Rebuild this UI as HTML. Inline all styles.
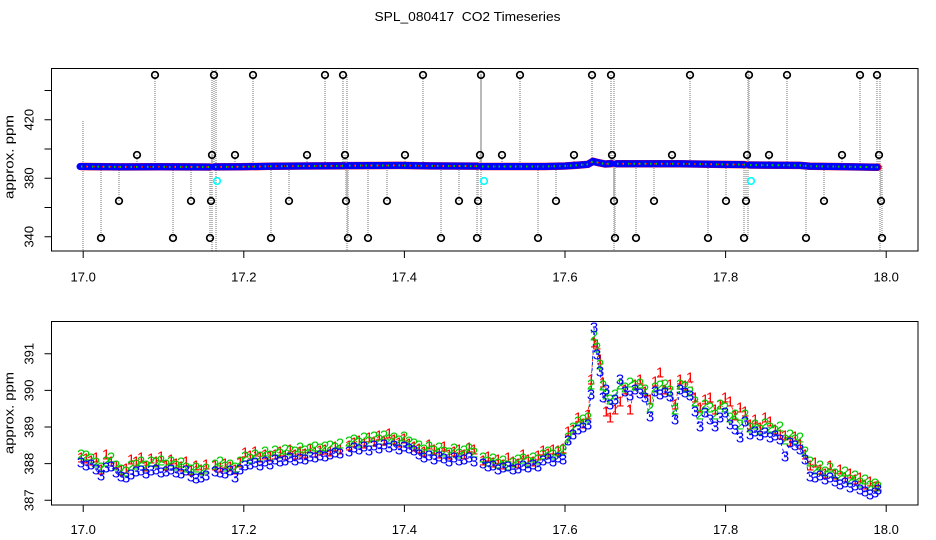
<!DOCTYPE html>
<html>
<head>
<meta charset="utf-8">
<style>
html,body{margin:0;padding:0;background:#fff;}
svg{display:block;}
text{font-family:"Liberation Sans",Arial,sans-serif;}
</style>
</head>
<body>
<svg width="936" height="540" viewBox="0 0 936 540" xmlns="http://www.w3.org/2000/svg">
<rect x="0" y="0" width="936" height="540" fill="#fff"/>

<!-- Title -->
<text x="467.5" y="21" font-size="13" text-anchor="middle" xml:space="preserve" textLength="186" lengthAdjust="spacingAndGlyphs">SPL_080417  CO2 Timeseries</text>

<!-- ================= TOP PANEL ================= -->
<path fill="none" stroke="#a9a9a9" stroke-width="1.6" stroke-dasharray="1 1"
d="M155 75V166 M214 75V166 M253 75V166 M325 75V166 M343 75V166 M423 75V166 M481 75V166 M520 75V166 M592 75V166 M611 75V166 M690 75V166 M749 75V166 M787 75V166 M860 75V166 M877 75V166
M137 155V166 M212 155V166 M235 155V166 M307 155V166 M345 155V166 M405 155V166 M480 155V166 M502 155V166 M574 155V166 M612 155V166 M672 155V166 M747 155V166 M769 155V166 M842 155V166 M879 155V166
M119 166V201 M191 166V201 M211 166V201 M289 166V201 M346 166V201 M387 166V201 M459 166V201 M478 166V201 M556 166V201 M614 166V201 M654 166V201 M726 166V201 M746 166V201 M824 166V201 M881 166V201
M101 166V238 M173 166V238 M210 166V238 M271 166V238 M348 166V238 M368 166V238 M441 166V238 M477 166V238 M538 166V238 M615 166V238 M636 166V238 M708 166V238 M744 166V238 M806 166V238 M882 166V238
M83 121V251 M212 68V251 M216 68V251 M347 75V251 M481 68V240 M614 75V251 M748 68V240 M880 75V251"/>

<g fill="none" stroke-linecap="round" stroke-linejoin="round">
<path stroke="#ff0000" stroke-width="7.5" d="M81 166.5 L120 166.9 L160 166.8 L210 167 M215 166.9 L240 166.8 L270 166.3 L300 166 L345 165.8 M349 165.6 L400 165.4 L430 165.9 L478 166.1 M482 166.5 L545 166.5 L565 166 L580 165 L588 164.3 L593 161.3 L598 162.6 L605 164 L612 163.6 M617 163.8 L680 163.8 L720 164.4 L745 164.6 M750 165 L800 165.4 L810 166.2 L840 166.6 L878 167.2"/>
<path stroke="#0000ff" stroke-width="7" d="M80 166.5 L120 166.9 L160 166.8 L209 167 M214 166.9 L240 166.8 L270 166.3 L300 166 L344 165.8 M348 165.6 L400 165.4 L430 165.9 L477 166.1 M481 166.5 L545 166.5 L565 166 L580 165 L588 164.3 L593 161.3 L598 162.6 L605 164 L611 163.6 M616 163.8 L680 163.8 L720 164.4 L744 164.6 M749 165 L800 165.4 L810 166.2 L840 166.6 L877 167.2"/>
<path stroke="#00cd00" stroke-width="2" stroke-dasharray="1.5 4" stroke-linecap="butt" d="M81 166.5 L120 166.9 L160 166.8 L210 167 M215 166.9 L240 166.8 L270 166.3 L300 166 L345 165.8 M349 165.6 L400 165.4 L430 165.9 L478 166.1 M482 166.5 L545 166.5 L565 166 L580 165 L588 164.3 L593 161.3 L598 162.6 L605 164 L612 163.6 M617 163.8 L680 163.8 L720 164.4 L745 164.6 M750 165 L800 165.4 L810 166.2 L840 166.6 L878 167.2"/>
<path stroke="#ff0000" stroke-width="1.5" stroke-dasharray="1 7" stroke-dashoffset="3" stroke-linecap="butt" d="M81 166.5 L120 166.9 L160 166.8 L210 167 M215 166.9 L240 166.8 L270 166.3 L300 166 L345 165.8 M349 165.6 L400 165.4 L430 165.9 L478 166.1 M482 166.5 L545 166.5 L565 166 L580 165 L588 164.3 L593 161.3 L598 162.6 L605 164 L612 163.6 M617 163.8 L680 163.8 L720 164.4 L745 164.6 M750 165 L800 165.4 L810 166.2 L840 166.6 L878 167.2"/>
</g>

<g fill="none" stroke="#000" stroke-width="1.7">
<circle cx="155" cy="75" r="3.3"/><circle cx="214" cy="75" r="3.3"/><circle cx="253" cy="75" r="3.3"/><circle cx="325" cy="75" r="3.3"/><circle cx="343" cy="75" r="3.3"/><circle cx="423" cy="75" r="3.3"/><circle cx="481" cy="75" r="3.3"/><circle cx="520" cy="75" r="3.3"/><circle cx="592" cy="75" r="3.3"/><circle cx="611" cy="75" r="3.3"/><circle cx="690" cy="75" r="3.3"/><circle cx="749" cy="75" r="3.3"/><circle cx="787" cy="75" r="3.3"/><circle cx="860" cy="75" r="3.3"/><circle cx="877" cy="75" r="3.3"/>
<circle cx="137" cy="155" r="3.3"/><circle cx="212" cy="155" r="3.3"/><circle cx="235" cy="155" r="3.3"/><circle cx="307" cy="155" r="3.3"/><circle cx="345" cy="155" r="3.3"/><circle cx="405" cy="155" r="3.3"/><circle cx="480" cy="155" r="3.3"/><circle cx="502" cy="155" r="3.3"/><circle cx="574" cy="155" r="3.3"/><circle cx="612" cy="155" r="3.3"/><circle cx="672" cy="155" r="3.3"/><circle cx="747" cy="155" r="3.3"/><circle cx="769" cy="155" r="3.3"/><circle cx="842" cy="155" r="3.3"/><circle cx="879" cy="155" r="3.3"/>
<circle cx="119" cy="201" r="3.3"/><circle cx="191" cy="201" r="3.3"/><circle cx="211" cy="201" r="3.3"/><circle cx="289" cy="201" r="3.3"/><circle cx="346" cy="201" r="3.3"/><circle cx="387" cy="201" r="3.3"/><circle cx="459" cy="201" r="3.3"/><circle cx="478" cy="201" r="3.3"/><circle cx="556" cy="201" r="3.3"/><circle cx="614" cy="201" r="3.3"/><circle cx="654" cy="201" r="3.3"/><circle cx="726" cy="201" r="3.3"/><circle cx="746" cy="201" r="3.3"/><circle cx="824" cy="201" r="3.3"/><circle cx="881" cy="201" r="3.3"/>
<circle cx="101" cy="238" r="3.3"/><circle cx="173" cy="238" r="3.3"/><circle cx="210" cy="238" r="3.3"/><circle cx="271" cy="238" r="3.3"/><circle cx="348" cy="238" r="3.3"/><circle cx="368" cy="238" r="3.3"/><circle cx="441" cy="238" r="3.3"/><circle cx="477" cy="238" r="3.3"/><circle cx="538" cy="238" r="3.3"/><circle cx="615" cy="238" r="3.3"/><circle cx="636" cy="238" r="3.3"/><circle cx="708" cy="238" r="3.3"/><circle cx="744" cy="238" r="3.3"/><circle cx="806" cy="238" r="3.3"/><circle cx="882" cy="238" r="3.3"/>
</g>
<g fill="none" stroke="#00ffff" stroke-width="1.7">
<circle cx="217" cy="181" r="3.3"/><circle cx="484" cy="181" r="3.3"/><circle cx="751" cy="181" r="3.3"/>
</g>

<rect x="51.5" y="68.5" width="866.5" height="182.5" fill="none" stroke="#000" stroke-width="1"/>
<path stroke="#000" stroke-width="1" fill="none" d="M83.2 251V258 M243.8 251V258 M404.4 251V258 M565 251V258 M725.6 251V258 M886.2 251V258 M51.5 236.7H44.5 M51.5 207.45H44.5 M51.5 178.2H44.5 M51.5 148.95H44.5 M51.5 119.7H44.5 M51.5 90.45H44.5"/>
<g font-size="13" text-anchor="middle">
<text x="83.2" y="281.5">17.0</text><text x="243.8" y="281.5">17.2</text><text x="404.4" y="281.5">17.4</text><text x="565" y="281.5">17.6</text><text x="725.6" y="281.5">17.8</text><text x="886.2" y="281.5">18.0</text>
<text transform="translate(33.5,236.7) rotate(-90)">340</text>
<text transform="translate(33.5,178.2) rotate(-90)">380</text>
<text transform="translate(33.5,119.7) rotate(-90)">420</text>
<text transform="translate(13.5,157) rotate(-90)" textLength="84" lengthAdjust="spacingAndGlyphs">approx. ppm</text>
</g>

<!-- ================= BOTTOM PANEL ================= -->
<g fill="none" stroke-width="0.8" stroke-dasharray="3 3">
<path stroke="#ff0000" d="M81 458 L86 459 L91 461 L96 458 L101 470 L106 455 L111 462 L116 466 L121 471 L126 469 L131 460 L136 462 L141 458 L146 467 L151 459 L156 462 L161 457 L166 466 L171 460 L176 464 L181 467 L186 462 L191 471 L196 466 L201 470 L206 465
M215 466 L220 468 L225 464 L230 467 L235 470 L240 463 L245 453 L250 456 L255 452 L260 458 L265 455 L270 457 L275 455 L280 452 L285 456 L290 450 L295 455 L300 452 L305 454 L310 449 L315 453 L320 451 L325 450 L330 452 L335 447 L340 450
M349 446 L354 443 L359 441 L364 444 L369 438 L374 442 L379 436 L384 441 L389 434 L394 440 L399 443 L404 439 L409 444 L414 447 L419 449 L424 452 L429 445 L434 450 L439 454 L444 447 L449 455 L454 452 L459 450 L464 455 L469 448 L474 450
M483 461 L488 457 L493 463 L498 460 L503 465 L508 458 L513 462 L518 464 L523 455 L528 460 L533 462 L538 456 L543 451 L548 454 L553 450 L558 451 L563 449 L568 432 L573 430 L578 418 L583 424 L588 415 L591 380 L594 343 L597 345 L600 360 L603 383 L606 412 L610 418
L615 410 L620 402 L625 390 L630 410 L635 385 L640 380 L645 392 L650 400 L655 382 L660 373 L665 390 L670 385 L675 405 L680 380 L685 386 L690 378 L695 398 L700 408 L705 400 L710 398 L715 410 L720 405 L725 398 L730 402 L735 416 L740 408 L745 412
L750 425 L755 420 L760 428 L765 418 L770 422 L775 430 L780 435 L785 436 L790 442 L795 437 L800 445 L805 455 L810 466 L815 463 L820 470 L825 474 L830 466 L835 475 L840 470 L845 478 L850 474 L855 480 L860 478 L865 485 L870 482 L875 487 L878 486"/>
<path stroke="#00cd00" d="M81 455 L86 456 L91 459 L96 463 L101 468 L106 462 L111 458 L116 466 L121 470 L126 472 L131 466 L136 465 L141 462 L146 466 L151 462 L156 463 L161 461 L166 465 L171 462 L176 466 L181 463 L186 468 L191 470 L196 468 L201 471 L206 469
M215 465 L220 462 L225 467 L230 465 L235 468 L240 462 L245 457 L250 459 L255 455 L260 457 L265 452 L270 456 L275 451 L280 454 L285 450 L290 451 L295 452 L300 448 L305 451 L310 449 L315 447 L320 449 L325 447 L330 446 L335 448 L340 444
M349 442 L354 440 L359 443 L364 438 L369 442 L374 437 L379 440 L384 436 L389 440 L394 438 L399 441 L404 437 L409 442 L414 444 L419 446 L424 450 L429 447 L434 451 L439 448 L444 452 L449 453 L454 449 L459 454 L464 451 L469 449 L474 453
M483 458 L488 462 L493 459 L498 464 L503 461 L508 466 L513 463 L518 460 L523 459 L528 462 L533 458 L538 460 L543 455 L548 452 L553 455 L558 452 L563 450 L568 438 L573 428 L578 422 L583 420 L588 418 L591 385 L594 336 L597 348 L600 365 L603 386 L606 395 L610 400
L615 395 L620 385 L625 388 L630 383 L635 386 L640 384 L645 390 L650 408 L655 388 L660 386 L665 385 L670 391 L675 410 L680 385 L685 387 L690 392 L695 402 L700 415 L705 405 L710 408 L715 415 L720 405 L725 408 L730 418 L735 415 L740 425 L745 415
L750 428 L755 425 L760 430 L765 424 L770 428 L775 431 L780 427 L785 440 L790 435 L795 440 L800 438 L805 452 L810 462 L815 470 L820 466 L825 472 L830 468 L835 474 L840 476 L845 472 L850 480 L855 476 L860 483 L865 480 L870 486 L875 484 L878 487"/>
<path stroke="#0000ff" d="M81 463 L86 466 L91 465 L96 470 L101 476 L106 468 L111 467 L116 473 L121 477 L126 478 L131 475 L136 472 L141 471 L146 474 L151 471 L156 470 L161 473 L166 472 L171 470 L176 473 L181 474 L186 471 L191 477 L196 479 L201 478 L206 476
M215 472 L220 473 L225 474 L230 471 L235 478 L240 470 L245 466 L250 465 L255 463 L260 466 L265 462 L270 465 L275 460 L280 462 L285 461 L290 458 L295 461 L300 459 L305 460 L310 457 L315 458 L320 456 L325 457 L330 455 L335 453 L340 454
M349 452 L354 448 L359 450 L364 447 L369 451 L374 446 L379 449 L384 445 L389 448 L394 446 L399 450 L404 447 L409 449 L414 451 L419 455 L424 458 L429 456 L434 460 L439 457 L444 459 L449 462 L454 458 L459 461 L464 460 L469 458 L474 462
M483 464 L488 467 L493 466 L498 470 L503 468 L508 467 L513 470 L518 469 L523 466 L528 468 L533 465 L538 467 L543 461 L548 459 L553 462 L558 458 L563 460 L568 441 L573 435 L578 430 L583 428 L588 425 L591 395 L594 328 L597 355 L600 372 L603 398 L606 390 L610 405
L615 400 L620 380 L625 392 L630 396 L635 390 L640 394 L645 398 L650 417 L655 392 L660 395 L665 393 L670 397 L675 420 L680 390 L685 393 L690 396 L695 412 L700 427 L705 413 L710 420 L715 427 L720 418 L725 413 L730 425 L735 430 L740 438 L745 422
L750 435 L755 432 L760 436 L765 433 L770 438 L775 436 L780 440 L785 457 L790 443 L795 446 L800 450 L805 460 L810 477 L815 478 L820 476 L825 480 L830 478 L835 482 L840 485 L845 483 L850 488 L855 486 L860 490 L865 492 L870 495 L875 493 L878 490"/>
</g>

<g font-size="15" text-anchor="middle" dominant-baseline="central">
<text fill="#ff0000"
x="81 86 91 96 101 106 111 116 121 126 131 136 141 146 151 156 161 166 171 176 181 186 191 196 201 206 215 220 225 230 235 240 245 250 255 260 265 270 275 280 285 290 295 300 305 310 315 320 325 330 335 340 349 354 359 364 369 374 379 384 389 394 399 404 409 414 419 424 429 434 439 444 449 454 459 464 469 474 483 488 493 498 503 508 513 518 523 528 533 538 543 548 553 558 563 568 573 578 583 588 591 594 597 600 603 606 610 615 620 625 630 635 640 645 650 655 660 665 670 675 680 685 690 695 700 705 710 715 720 725 730 735 740 745 750 755 760 765 770 775 780 785 790 795 800 805 810 815 820 825 830 835 840 845 850 855 860 865 870 875 878"
y="458 459 461 458 470 455 462 466 471 469 460 462 458 467 459 462 457 466 460 464 467 462 471 466 470 465 466 468 464 467 470 463 453 456 452 458 455 457 455 452 456 450 455 452 454 449 453 451 450 452 447 450 446 443 441 444 438 442 436 441 434 440 443 439 444 447 449 452 445 450 454 447 455 452 450 455 448 450 461 457 463 460 465 458 462 464 455 460 462 456 451 454 450 451 449 432 430 418 424 415 380 343 345 360 383 412 418 410 402 390 410 385 380 392 400 382 373 390 385 405 380 386 378 398 408 400 398 410 405 398 402 416 408 412 425 420 428 418 422 430 435 436 442 437 445 455 466 463 470 474 466 475 470 478 474 480 478 485 482 487 486">11111111111111111111111111111111111111111111111111111111111111111111111111111111111111111111111111111111111111111111111111111111111111111111111111111111111111111</text>
<text fill="#00cd00"
x="81 86 91 96 101 106 111 116 121 126 131 136 141 146 151 156 161 166 171 176 181 186 191 196 201 206 215 220 225 230 235 240 245 250 255 260 265 270 275 280 285 290 295 300 305 310 315 320 325 330 335 340 349 354 359 364 369 374 379 384 389 394 399 404 409 414 419 424 429 434 439 444 449 454 459 464 469 474 483 488 493 498 503 508 513 518 523 528 533 538 543 548 553 558 563 568 573 578 583 588 591 594 597 600 603 606 610 615 620 625 630 635 640 645 650 655 660 665 670 675 680 685 690 695 700 705 710 715 720 725 730 735 740 745 750 755 760 765 770 775 780 785 790 795 800 805 810 815 820 825 830 835 840 845 850 855 860 865 870 875 878"
y="455 456 459 463 468 462 458 466 470 472 466 465 462 466 462 463 461 465 462 466 463 468 470 468 471 469 465 462 467 465 468 462 457 459 455 457 452 456 451 454 450 451 452 448 451 449 447 449 447 446 448 444 442 440 443 438 442 437 440 436 440 438 441 437 442 444 446 450 447 451 448 452 453 449 454 451 449 453 458 462 459 464 461 466 463 460 459 462 458 460 455 452 455 452 450 438 428 422 420 418 385 336 348 365 386 395 400 395 385 388 383 386 384 390 408 388 386 385 391 410 385 387 392 402 415 405 408 415 405 408 418 415 425 415 428 425 430 424 428 431 427 440 435 440 438 452 462 470 466 472 468 474 476 472 480 476 483 480 486 484 487">22222222222222222222222222222222222222222222222222222222222222222222222222222222222222222222222222222222222222222222222222222222222222222222222222222222222222222</text>
<text fill="#0000ff"
x="81 86 91 96 101 106 111 116 121 126 131 136 141 146 151 156 161 166 171 176 181 186 191 196 201 206 215 220 225 230 235 240 245 250 255 260 265 270 275 280 285 290 295 300 305 310 315 320 325 330 335 340 349 354 359 364 369 374 379 384 389 394 399 404 409 414 419 424 429 434 439 444 449 454 459 464 469 474 483 488 493 498 503 508 513 518 523 528 533 538 543 548 553 558 563 568 573 578 583 588 591 594 597 600 603 606 610 615 620 625 630 635 640 645 650 655 660 665 670 675 680 685 690 695 700 705 710 715 720 725 730 735 740 745 750 755 760 765 770 775 780 785 790 795 800 805 810 815 820 825 830 835 840 845 850 855 860 865 870 875 878"
y="463 466 465 470 476 468 467 473 477 478 475 472 471 474 471 470 473 472 470 473 474 471 477 479 478 476 472 473 474 471 478 470 466 465 463 466 462 465 460 462 461 458 461 459 460 457 458 456 457 455 453 454 452 448 450 447 451 446 449 445 448 446 450 447 449 451 455 458 456 460 457 459 462 458 461 460 458 462 464 467 466 470 468 467 470 469 466 468 465 467 461 459 462 458 460 441 435 430 428 425 395 328 355 372 398 390 405 400 380 392 396 390 394 398 417 392 395 393 397 420 390 393 396 412 427 413 420 427 418 413 425 430 438 422 435 432 436 433 438 436 440 457 443 446 450 460 477 478 476 480 478 482 485 483 488 486 490 492 495 493 490">33333333333333333333333333333333333333333333333333333333333333333333333333333333333333333333333333333333333333333333333333333333333333333333333333333333333333333</text>
</g>

<rect x="51.5" y="321.5" width="866.5" height="183.5" fill="none" stroke="#000" stroke-width="1"/>
<path stroke="#000" stroke-width="1" fill="none" d="M83.2 505V512 M243.8 505V512 M404.4 505V512 M565 505V512 M725.6 505V512 M886.2 505V512 M51.5 500.3H44.5 M51.5 463.65H44.5 M51.5 427H44.5 M51.5 390.35H44.5 M51.5 353.7H44.5"/>
<g font-size="13" text-anchor="middle">
<text x="83.2" y="534">17.0</text><text x="243.8" y="534">17.2</text><text x="404.4" y="534">17.4</text><text x="565" y="534">17.6</text><text x="725.6" y="534">17.8</text><text x="886.2" y="534">18.0</text>
<text transform="translate(33.5,500.3) rotate(-90)">387</text>
<text transform="translate(33.5,463.65) rotate(-90)">388</text>
<text transform="translate(33.5,427) rotate(-90)">389</text>
<text transform="translate(33.5,390.35) rotate(-90)">390</text>
<text transform="translate(33.5,353.7) rotate(-90)">391</text>
<text transform="translate(13.5,413) rotate(-90)" textLength="82" lengthAdjust="spacingAndGlyphs">approx. ppm</text>
</g>
</svg>
</body>
</html>
